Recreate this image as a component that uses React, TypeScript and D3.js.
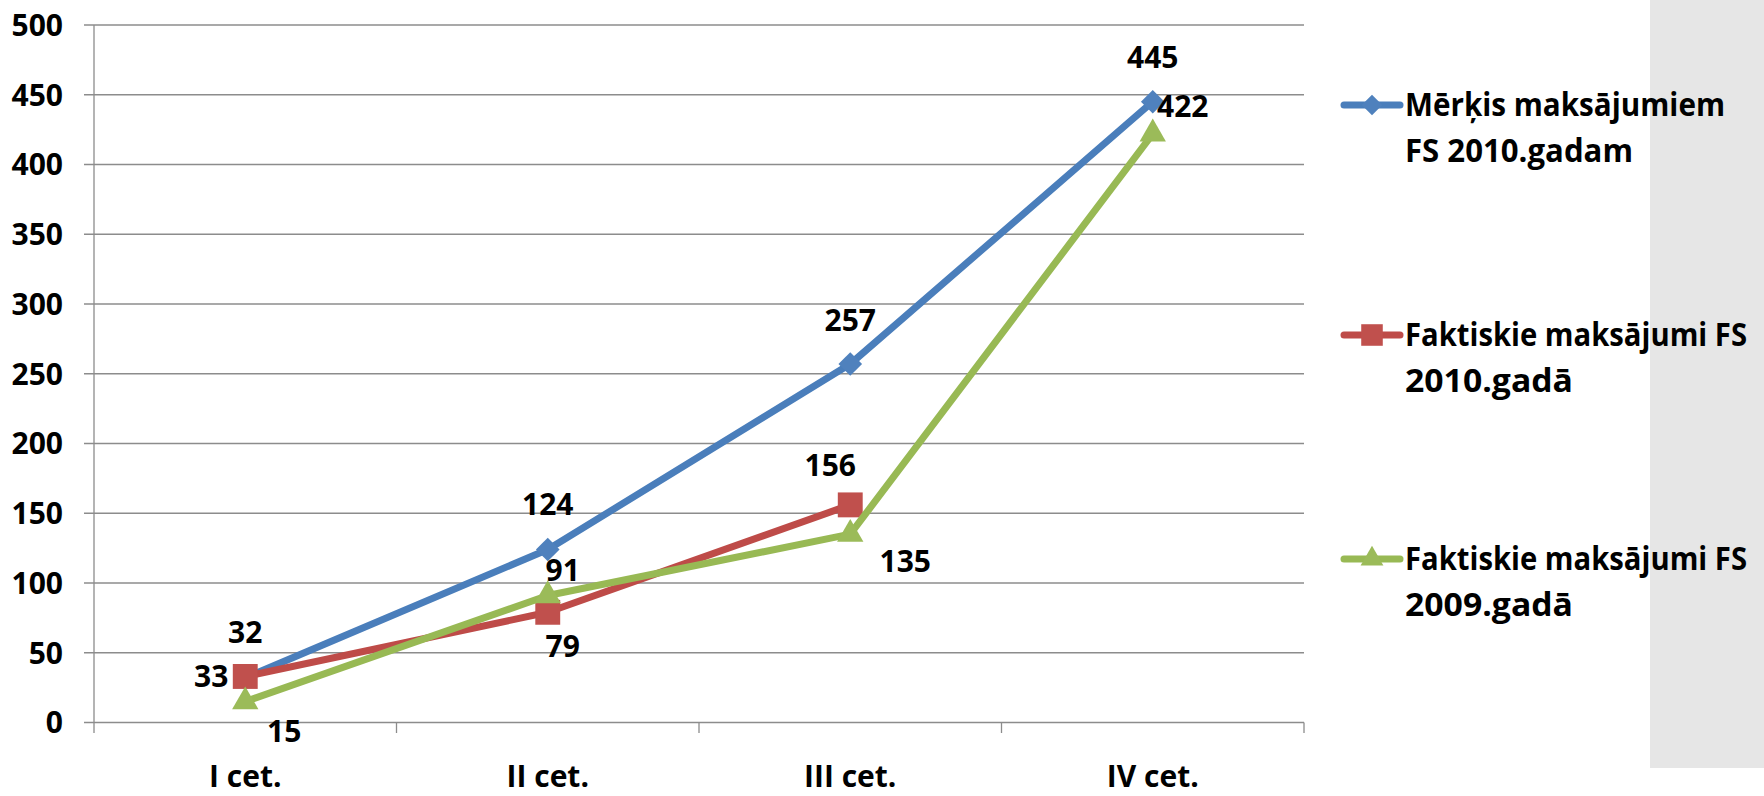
import React from 'react';
import * as d3 from 'd3';

const categories = ['I cet.', 'II cet.', 'III cet.', 'IV cet.'];
const targetPayments2010 = [32, 124, 257, 445];
const actualPayments2010 = [33, 79, 156, null];
const actualPayments2009 = [15, 91, 135, 422];
const yTicks = [0, 50, 100, 150, 200, 250, 300, 350, 400, 450, 500];
const legendLines = [
  ['Mērķis maksājumiem', 'FS 2010.gadam'],
  ['Faktiskie maksājumi FS', '2010.gadā'],
  ['Faktiskie maksājumi FS', '2009.gadā'],
];

const W = 1764;
const H = 796;
const FONT = '"Open Sans", Lato, sans-serif';

// widths the legend lines take in the original picture
const legendWidths = [[320, 228], [342, 168], [342, 168]];

const series = [
  {
    values: targetPayments2010,
    line: '#4a7ebb',
    fill: '#4f81bd',
    symbol: d3.symbolSquare,
    size: 280,
    rotate: 45,
    labelOff: [[0, -46], [0, -45], [0, -44], [0, -45]],
    legendY: 105,
  },
  {
    values: actualPayments2010,
    line: '#be4b48',
    fill: '#c0504d',
    symbol: d3.symbolSquare,
    size: 620,
    rotate: 0,
    labelOff: [[-34, 0], [15, 34], [-20, -40], [0, 0]],
    legendY: 335,
  },
  {
    values: actualPayments2009,
    line: '#98b954',
    fill: '#9bbb59',
    symbol: d3.symbolTriangle,
    size: 300,
    rotate: 0,
    labelOff: [[39, 30], [15, -25], [55, 27], [30, -28]],
    legendY: 559,
  },
];

export default function App() {
  const x = d3.scaleBand<string>().domain(categories).range([94, 1304]);
  const y = d3.scaleLinear().domain([0, 500]).range([722.5, 25]);
  const cx = (c: string) => (x(c) ?? 0) + x.bandwidth() / 2;

  const line = d3
    .line<number | null>()
    .defined((d) => d != null)
    .x((_, i) => cx(categories[i]))
    .y((d) => y(d as number));

  const boundaries = categories.map((c) => x(c) ?? 0).concat([x.range()[1]]);
  const grid = '#8c8c8c';

  return (
    <svg width={W} height={H} style={{ position: 'absolute', left: 0, top: 0 }} fontFamily={FONT}>
      <rect x={0} y={0} width={W} height={H} fill="#fff" />
      <rect x={1650} y={0} width={W - 1650} height={768} fill="#e6e6e6" />

      {/* gridlines + y labels */}
      {yTicks.map((t) => (
        <g key={t}>
          <line x1={84} x2={1304} y1={y(t)} y2={y(t)} stroke={grid} strokeWidth={1.3} />
          <text x={63} y={y(t)} dy="0.36em" textAnchor="end" fontSize={30} fontWeight={700} fill="#000">
            {t}
          </text>
        </g>
      ))}
      <line x1={94} x2={94} y1={y(500)} y2={733} stroke={grid} strokeWidth={1.3} />
      {boundaries.slice(1).map((b, i) => (
        <line key={i} x1={b} x2={b} y1={y(0)} y2={733} stroke={grid} strokeWidth={1.3} />
      ))}

      {/* x labels */}
      {categories.map((c) => (
        <text key={c} x={cx(c)} y={787} textAnchor="middle" fontSize={30} fontWeight={700} fill="#000">
          {c}
        </text>
      ))}

      {/* series */}
      {series.map((s, si) => (
        <g key={si}>
          <path d={line(s.values) ?? ''} fill="none" stroke={s.line} strokeWidth={7} strokeLinejoin="round" strokeLinecap="round" />
          {s.values.map((v, i) =>
            v == null ? null : (
              <path
                key={i}
                d={d3.symbol(s.symbol, s.size)() ?? ''}
                transform={`translate(${cx(categories[i])},${y(v)}) rotate(${s.rotate})`}
                fill={s.fill}
              />
            )
          )}
        </g>
      ))}

      {/* data labels */}
      {series.map((s, si) =>
        s.values.map((v, i) =>
          v == null ? null : (
            <text
              key={`${si}-${i}`}
              x={cx(categories[i]) + s.labelOff[i][0]}
              y={y(v) + s.labelOff[i][1]}
              dy="0.36em"
              textAnchor="middle"
              fontSize={30}
              fontWeight={700}
              fill="#000"
            >
              {v}
            </text>
          )
        )
      )}

      {/* legend */}
      {series.map((s, si) => (
        <g key={si}>
          <line x1={1344} x2={1400} y1={s.legendY} y2={s.legendY} stroke={s.line} strokeWidth={7} strokeLinecap="round" />
          <path
            d={d3.symbol(s.symbol, s.size * 0.75)() ?? ''}
            transform={`translate(1372,${s.legendY}) rotate(${s.rotate})`}
            fill={s.fill}
          />
          {legendLines[si].map((t, li) => (
            <text
              key={li}
              x={1405}
              y={s.legendY - 1 + li * 46}
              dy="0.36em"
              fontSize={32}
              fontWeight={700}
              fill="#000"
              textLength={legendWidths[si][li]}
              lengthAdjust="spacingAndGlyphs"
            >
              {t}
            </text>
          ))}
        </g>
      ))}
    </svg>
  );
}
